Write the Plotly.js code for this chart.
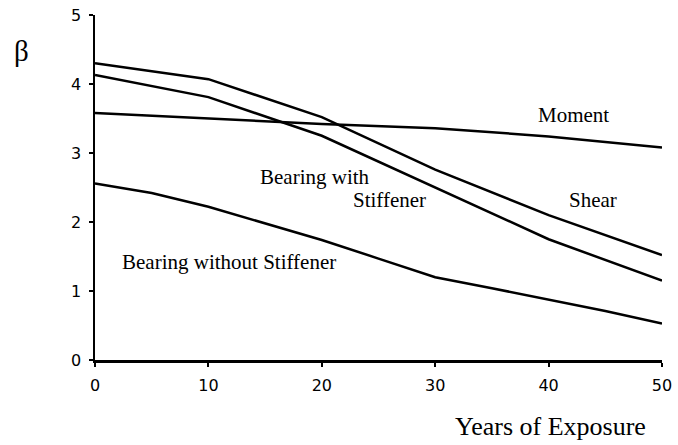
<!DOCTYPE html>
<html>
<head>
<meta charset="utf-8">
<script src="https://cdn.plot.ly/plotly-3.0.1.min.js"></script>
<style>html,body{margin:0;padding:0;background:#fff;}#chart{width:678px;height:445px;}</style>
</head>
<body>
<div id="chart"></div>
<script>
const years = [0, 10, 20, 30, 40, 50];
const shear = [4.30, 4.07, 3.52, 2.76, 2.10, 1.52];
const bearingWith = [4.13, 3.81, 3.25, 2.50, 1.75, 1.15];
const moment = [3.58, 3.50, 3.42, 3.36, 3.24, 3.08];
const yearsWithout = [0, 5, 10, 15, 20, 25, 30, 35, 40, 45, 50];
const bearingWithout = [2.56, 2.42, 2.22, 1.98, 1.74, 1.47, 1.20, 1.04, 0.88, 0.71, 0.53];

const yTicks = [0, 1, 2, 3, 4, 5];
const xTicks = [0, 10, 20, 30, 40, 50];

const labels = [
  {text: 'Moment', x: 42.2, y: 3.55, anchor: 'center'},
  {text: 'Shear', x: 43.9, y: 2.32, anchor: 'center'},
  {text: 'Bearing with', x: 14.4, y: 2.65, anchor: 'left'},
  {text: 'Stiffener', x: 22.6, y: 2.32, anchor: 'left'},
  {text: 'Bearing without Stiffener', x: 2.2, y: 1.42, anchor: 'left'}
];

const lineStyle = {color: '#000', width: 2.5};
const traces = [
  {x: years, y: shear, name: 'Shear'},
  {x: years, y: bearingWith, name: 'Bearing with Stiffener'},
  {x: years, y: moment, name: 'Moment'},
  {x: yearsWithout, y: bearingWithout, name: 'Bearing without Stiffener'}
].map(t => Object.assign(t, {type: 'scatter', mode: 'lines', line: lineStyle, hoverinfo: 'skip'}));

const serif = 'Liberation Serif, Times New Roman, serif';
const annotations = labels.map(l => ({
  text: l.text, x: l.x, y: l.y, xref: 'x', yref: 'y',
  xanchor: l.anchor, yanchor: 'middle', showarrow: false,
  font: {family: serif, size: 21, color: '#000'}
}));
annotations.push({
  text: 'β', xref: 'paper', yref: 'paper', x: -0.129, y: 0.895,
  xanchor: 'center', yanchor: 'middle', showarrow: false,
  font: {family: serif, size: 29, color: '#000'}
});
annotations.push({
  text: 'Years of Exposure', xref: 'paper', yref: 'paper', x: 0.804, y: -0.192,
  xanchor: 'center', yanchor: 'middle', showarrow: false,
  font: {family: serif, size: 26, color: '#000'}
});

const tickFont = {family: 'DejaVu Sans, sans-serif', size: 16, color: '#000'};
const layout = {
  width: 678, height: 445,
  margin: {l: 95, r: 16, t: 15, b: 85},
  paper_bgcolor: '#fff', plot_bgcolor: '#fff',
  showlegend: false,
  xaxis: {
    range: [0, 50], tickvals: xTicks, ticktext: xTicks.map(String),
    showgrid: false, zeroline: false, showline: true, linecolor: '#000', linewidth: 2.5,
    ticks: 'outside', ticklen: 4, tickwidth: 2, tickcolor: '#000',
    tickfont: tickFont, ticklabelstandoff: 5
  },
  yaxis: {
    range: [0, 5], tickvals: yTicks, ticktext: yTicks.map(String),
    showgrid: false, zeroline: false, showline: true, linecolor: '#000', linewidth: 2.5,
    ticks: 'outside', ticklen: 4, tickwidth: 2, tickcolor: '#000',
    tickfont: tickFont, ticklabelstandoff: 4
  },
  annotations: annotations
};

Plotly.newPlot('chart', traces, layout, {staticPlot: true, displayModeBar: false});
</script>
</body>
</html>
